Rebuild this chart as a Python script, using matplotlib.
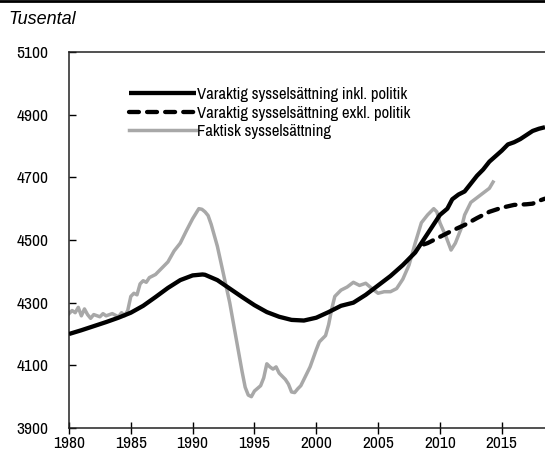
import matplotlib
matplotlib.use("Agg")
import matplotlib.pyplot as plt
from matplotlib.lines import Line2D

plt.rcParams['font.family'] = ['Archivo Narrow', 'DejaVu Sans']

# Varaktig sysselsättning inkl. politik
incl_x = [1980, 1981, 1982, 1983, 1984, 1985, 1986, 1987, 1988, 1989, 1990,
          1990.8, 1991, 1992, 1993, 1994, 1995, 1996, 1997, 1998, 1999, 2000,
          2001, 2002, 2003, 2004, 2005, 2006, 2007, 2008, 2009, 2010, 2010.6,
          2011, 2011.5, 2012, 2012.5, 2013, 2013.5, 2014, 2015, 2015.5, 2016,
          2016.5, 2017, 2017.5, 2018, 2018.5]
incl_y = [4200, 4212, 4225, 4238, 4252, 4268, 4290, 4318, 4347, 4372, 4387,
          4390, 4389, 4372, 4345, 4318, 4292, 4270, 4255, 4245, 4243, 4252,
          4270, 4290, 4300, 4325, 4355, 4385, 4420, 4460, 4520, 4580, 4600,
          4630, 4645, 4655, 4680, 4705, 4725, 4750, 4785, 4805, 4812,
          4822, 4835, 4848, 4855, 4860]

# Varaktig sysselsättning exkl. politik
excl_x = [2008.7, 2009, 2010, 2011, 2012, 2013, 2014, 2015, 2016, 2017,
          2017.5, 2018, 2018.5]
excl_y = [4486, 4490, 4510, 4530, 4548, 4570, 4590, 4603, 4612, 4614,
          4616, 4625, 4632]

# Faktisk sysselsättning
fakt_x = [1980.0, 1980.25, 1980.5, 1980.75, 1981.0, 1981.25, 1981.5, 1981.75,
          1982.0, 1982.5, 1982.75, 1983.0, 1983.5, 1984.0, 1984.25, 1984.5,
          1984.75, 1985.0, 1985.25, 1985.5, 1985.75, 1986.0, 1986.25, 1986.5,
          1987.0, 1987.5, 1988.0, 1988.5, 1989.0, 1989.5, 1990.0, 1990.5,
          1990.75, 1991.0, 1991.25, 1991.5, 1992.0, 1992.5, 1993.0, 1993.5,
          1994.0, 1994.25, 1994.5, 1994.75, 1995.0, 1995.5, 1995.75, 1996.0,
          1996.25, 1996.5, 1996.75, 1997.0, 1997.25, 1997.5, 1997.75, 1998.0,
          1998.25, 1998.5, 1998.75, 1999.0, 1999.5, 2000.0, 2000.25, 2000.75,
          2001.0, 2001.25, 2001.5, 2002.0, 2002.5, 2003.0, 2003.5, 2004.0,
          2004.5, 2005.0, 2005.5, 2006.0, 2006.5, 2007.0, 2007.5, 2008.0,
          2008.5, 2009.0, 2009.5, 2009.75, 2010.0, 2010.5, 2010.9, 2011.25,
          2011.75, 2012.0, 2012.5, 2013.0, 2013.5, 2014.0, 2014.3]
fakt_y = [4265, 4275, 4268, 4285, 4258, 4280, 4262, 4250,
          4262, 4255, 4265, 4258, 4265, 4255, 4268, 4258,
          4275, 4320, 4330, 4325, 4360, 4370, 4365, 4380,
          4390, 4410, 4430, 4465, 4490, 4530, 4568, 4600,
          4598, 4590, 4578, 4550, 4480, 4390, 4300, 4190,
          4080, 4030, 4005, 4000, 4018, 4035, 4060, 4105,
          4095, 4088, 4095, 4075, 4065, 4055, 4040, 4015,
          4013, 4025, 4035, 4055, 4095, 4150, 4175, 4195,
          4230, 4280, 4320, 4340, 4350, 4365, 4355, 4362,
          4345, 4330, 4335, 4335, 4345, 4375, 4420, 4490,
          4555, 4580, 4600, 4590, 4555, 4510, 4468, 4490,
          4540, 4580, 4620, 4635, 4650, 4665, 4685]

labels = ["Varaktig sysselsättning inkl. politik",
          "Varaktig sysselsättning exkl. politik",
          "Faktisk sysselsättning"]
yticks = [3900, 4100, 4300, 4500, 4700, 4900, 5100]
xticks = [1980, 1985, 1990, 1995, 2000, 2005, 2010, 2015]

fig = plt.figure(figsize=(5.45, 4.59), dpi=100)
ax = fig.add_axes([69 / 545, 31 / 459, 476 / 545, 376 / 459])

ax.plot(incl_x, incl_y, color="black", lw=3.1, solid_capstyle="butt", label=labels[0], zorder=3)
ax.plot(excl_x, excl_y, color="black", lw=3.1, ls=(0, (2.3, 1.9)),
        dash_capstyle="round", label=labels[1], zorder=3)
ax.plot(fakt_x, fakt_y, color="#a8a8a8", lw=2.5, label=labels[2], zorder=2)

ax.set_xlim(1980, 2018.5)
ax.set_ylim(3900, 5100)
ax.set_xticks(xticks)
ax.set_yticks(yticks)
ax.tick_params(axis="y", direction="in", length=5, width=1, labelsize=12.5, pad=15)
ax.tick_params(axis="x", direction="inout", length=9, width=1, labelsize=12.5, pad=1)
for s in ["left", "bottom", "top"]:
    ax.spines[s].set_linewidth(1.1)
    ax.spines[s].set_color("#222222")
ax.spines["right"].set_visible(False)

leg = ax.legend(loc="upper left", bbox_to_anchor=(0.112, 0.925), frameon=False,
                fontsize=12, handlelength=4.0, handletextpad=0.1,
                labelspacing=0.22, borderaxespad=0)

fig.text(8 / 545, 1 - 20 / 459, "Tusental", fontsize=13, style="italic",
         family=["Liberation Sans", "DejaVu Sans"], va="center", ha="left")
fig.add_artist(Line2D([0, 1], [0.998, 0.998], color="black", lw=2,
                      transform=fig.transFigure))

fig.savefig("out.png", dpi=100)
